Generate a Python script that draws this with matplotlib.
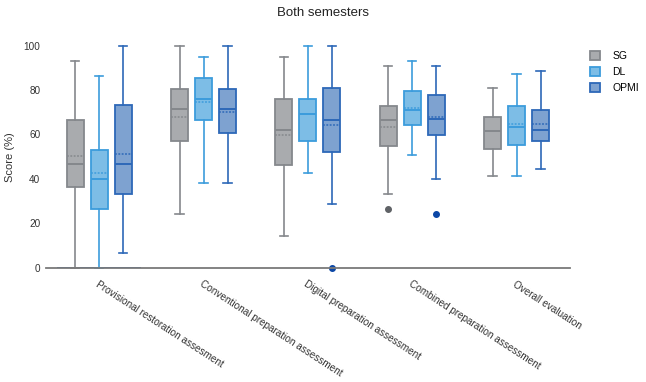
import matplotlib.pyplot as plt

plt.rcParams['font.family'] = ['Liberation Sans', 'DejaVu Sans']

categories = ["Provisional restoration assesment", "Conventional preparation assessment",
              "Digital preparation assessment", "Combined preparation assessment",
              "Overall evaluation"]
groups = ["SG", "DL", "OPMI"]

# per group: [low whisker, q1, median, q3, high whisker], mean, outliers
sg_stats = [[0, 36.5, 46.5, 66.5, 93], [24, 57, 71.3, 80.6, 100], [14.3, 46.4, 61.9, 76, 95],
            [33.2, 54.8, 66.5, 73, 91], [41.1, 53.5, 61.4, 68, 80.8]]
sg_mean = [50.5, 67.7, 59.9, 63.2, 61.4]
sg_out = [[], [], [], [26.6], []]

dl_stats = [[0, 26.6, 40, 53.2, 86.5], [38, 66.7, 76.1, 85.4, 95], [42.8, 57.1, 69.1, 76, 100],
            [50.9, 64.3, 70.9, 79.7, 93.1], [41.1, 55.3, 63.4, 72.8, 87.1]]
dl_mean = [42.8, 74.6, 69.1, 71.9, 64.9]
dl_out = [[], [], [], [], []]

opmi_stats = [[6.8, 33.2, 46.5, 73.1, 100], [38, 60.5, 71.3, 80.6, 100], [28.5, 52.3, 66.5, 80.8, 100],
              [40, 59.8, 66.8, 77.6, 91], [44.4, 56.9, 61.9, 71.2, 88.7]]
opmi_mean = [51.2, 70.1, 64.4, 68, 64.9]
opmi_out = [[], [], [0], [24.3], []]

fills = ["#a9abae", "#7dbde6", "#7ea2d0"]
edges = ["#85888c", "#3c9cdc", "#2d68b8"]
flier_colors = ["#5f6266", "#1a5cb0", "#0b47a6"]

fig = plt.figure(figsize=(6.46, 3.82), dpi=100)
ax = fig.add_axes([0.0712, 0.2992, 0.8108, 0.5812])

offsets = [-0.23, 0, 0.23]
all_stats = [sg_stats, dl_stats, opmi_stats]
all_means = [sg_mean, dl_mean, opmi_mean]
all_out = [sg_out, dl_out, opmi_out]

for k in range(3):
    stats = []
    for i in range(len(categories)):
        lo, q1, med, q3, hi = all_stats[k][i]
        stats.append(dict(whislo=lo, q1=q1, med=med, q3=q3, whishi=hi,
                          mean=all_means[k][i], fliers=all_out[k][i]))
    pos = [i + offsets[k] for i in range(len(categories))]
    bp = ax.bxp(stats, positions=pos, widths=0.165, patch_artist=True, showmeans=True,
                meanline=True, manage_ticks=False,
                boxprops=dict(facecolor=fills[k], edgecolor=edges[k], linewidth=1.3),
                medianprops=dict(color=edges[k], linewidth=1.4),
                meanprops=dict(color=edges[k], linestyle=(0, (1.2, 1)), linewidth=1.1),
                whiskerprops=dict(color=edges[k], linewidth=1.2),
                capprops=dict(color=edges[k], linewidth=1.2),
                flierprops=dict(marker='o', markersize=4, markerfacecolor=flier_colors[k],
                                markeredgecolor=flier_colors[k]))
    for artist in bp['boxes'] + bp['whiskers'] + bp['caps'] + bp['fliers'] + bp['medians'] + bp['means']:
        artist.set_clip_on(False)
    for cap in bp['caps']:
        x = cap.get_xdata()
        c = (x[0] + x[1]) / 2
        cap.set_xdata([c - 0.04, c + 0.04])
    ax.bar([0], [0], color=fills[k], edgecolor=edges[k], linewidth=1.3, label=groups[k])

ax.set_xlim(-0.51, 4.51)
ax.set_ylim(0, 100)
ax.set_yticks([0, 20, 40, 60, 80, 100])
ax.set_xticks(range(len(categories)))
ax.set_xticklabels(categories, rotation=-33, ha='left', va='top', rotation_mode='anchor',
                   fontsize=7.2, color='#333333')
ax.tick_params(axis='x', length=0, pad=8)
ax.tick_params(axis='y', length=0, pad=4, labelsize=7.2, labelcolor='#333333')
for s in ['top', 'right', 'left']:
    ax.spines[s].set_visible(False)
ax.spines['bottom'].set_color('#7a7a7a')
ax.spines['bottom'].set_linewidth(1.3)
ax.set_ylabel("Score (%)", fontsize=8, color='#333333', labelpad=6)

fig.text(0.5, 0.965, "Both semesters", ha='center', va='center', fontsize=9.5, color='#222222')

ax.legend(loc='upper left', bbox_to_anchor=(1.02, 1.02), frameon=False, fontsize=7.5,
          handlelength=1.0, handleheight=1.0, handletextpad=1.2, labelspacing=0.55)

fig.savefig("out.png", dpi=100, facecolor='white')
